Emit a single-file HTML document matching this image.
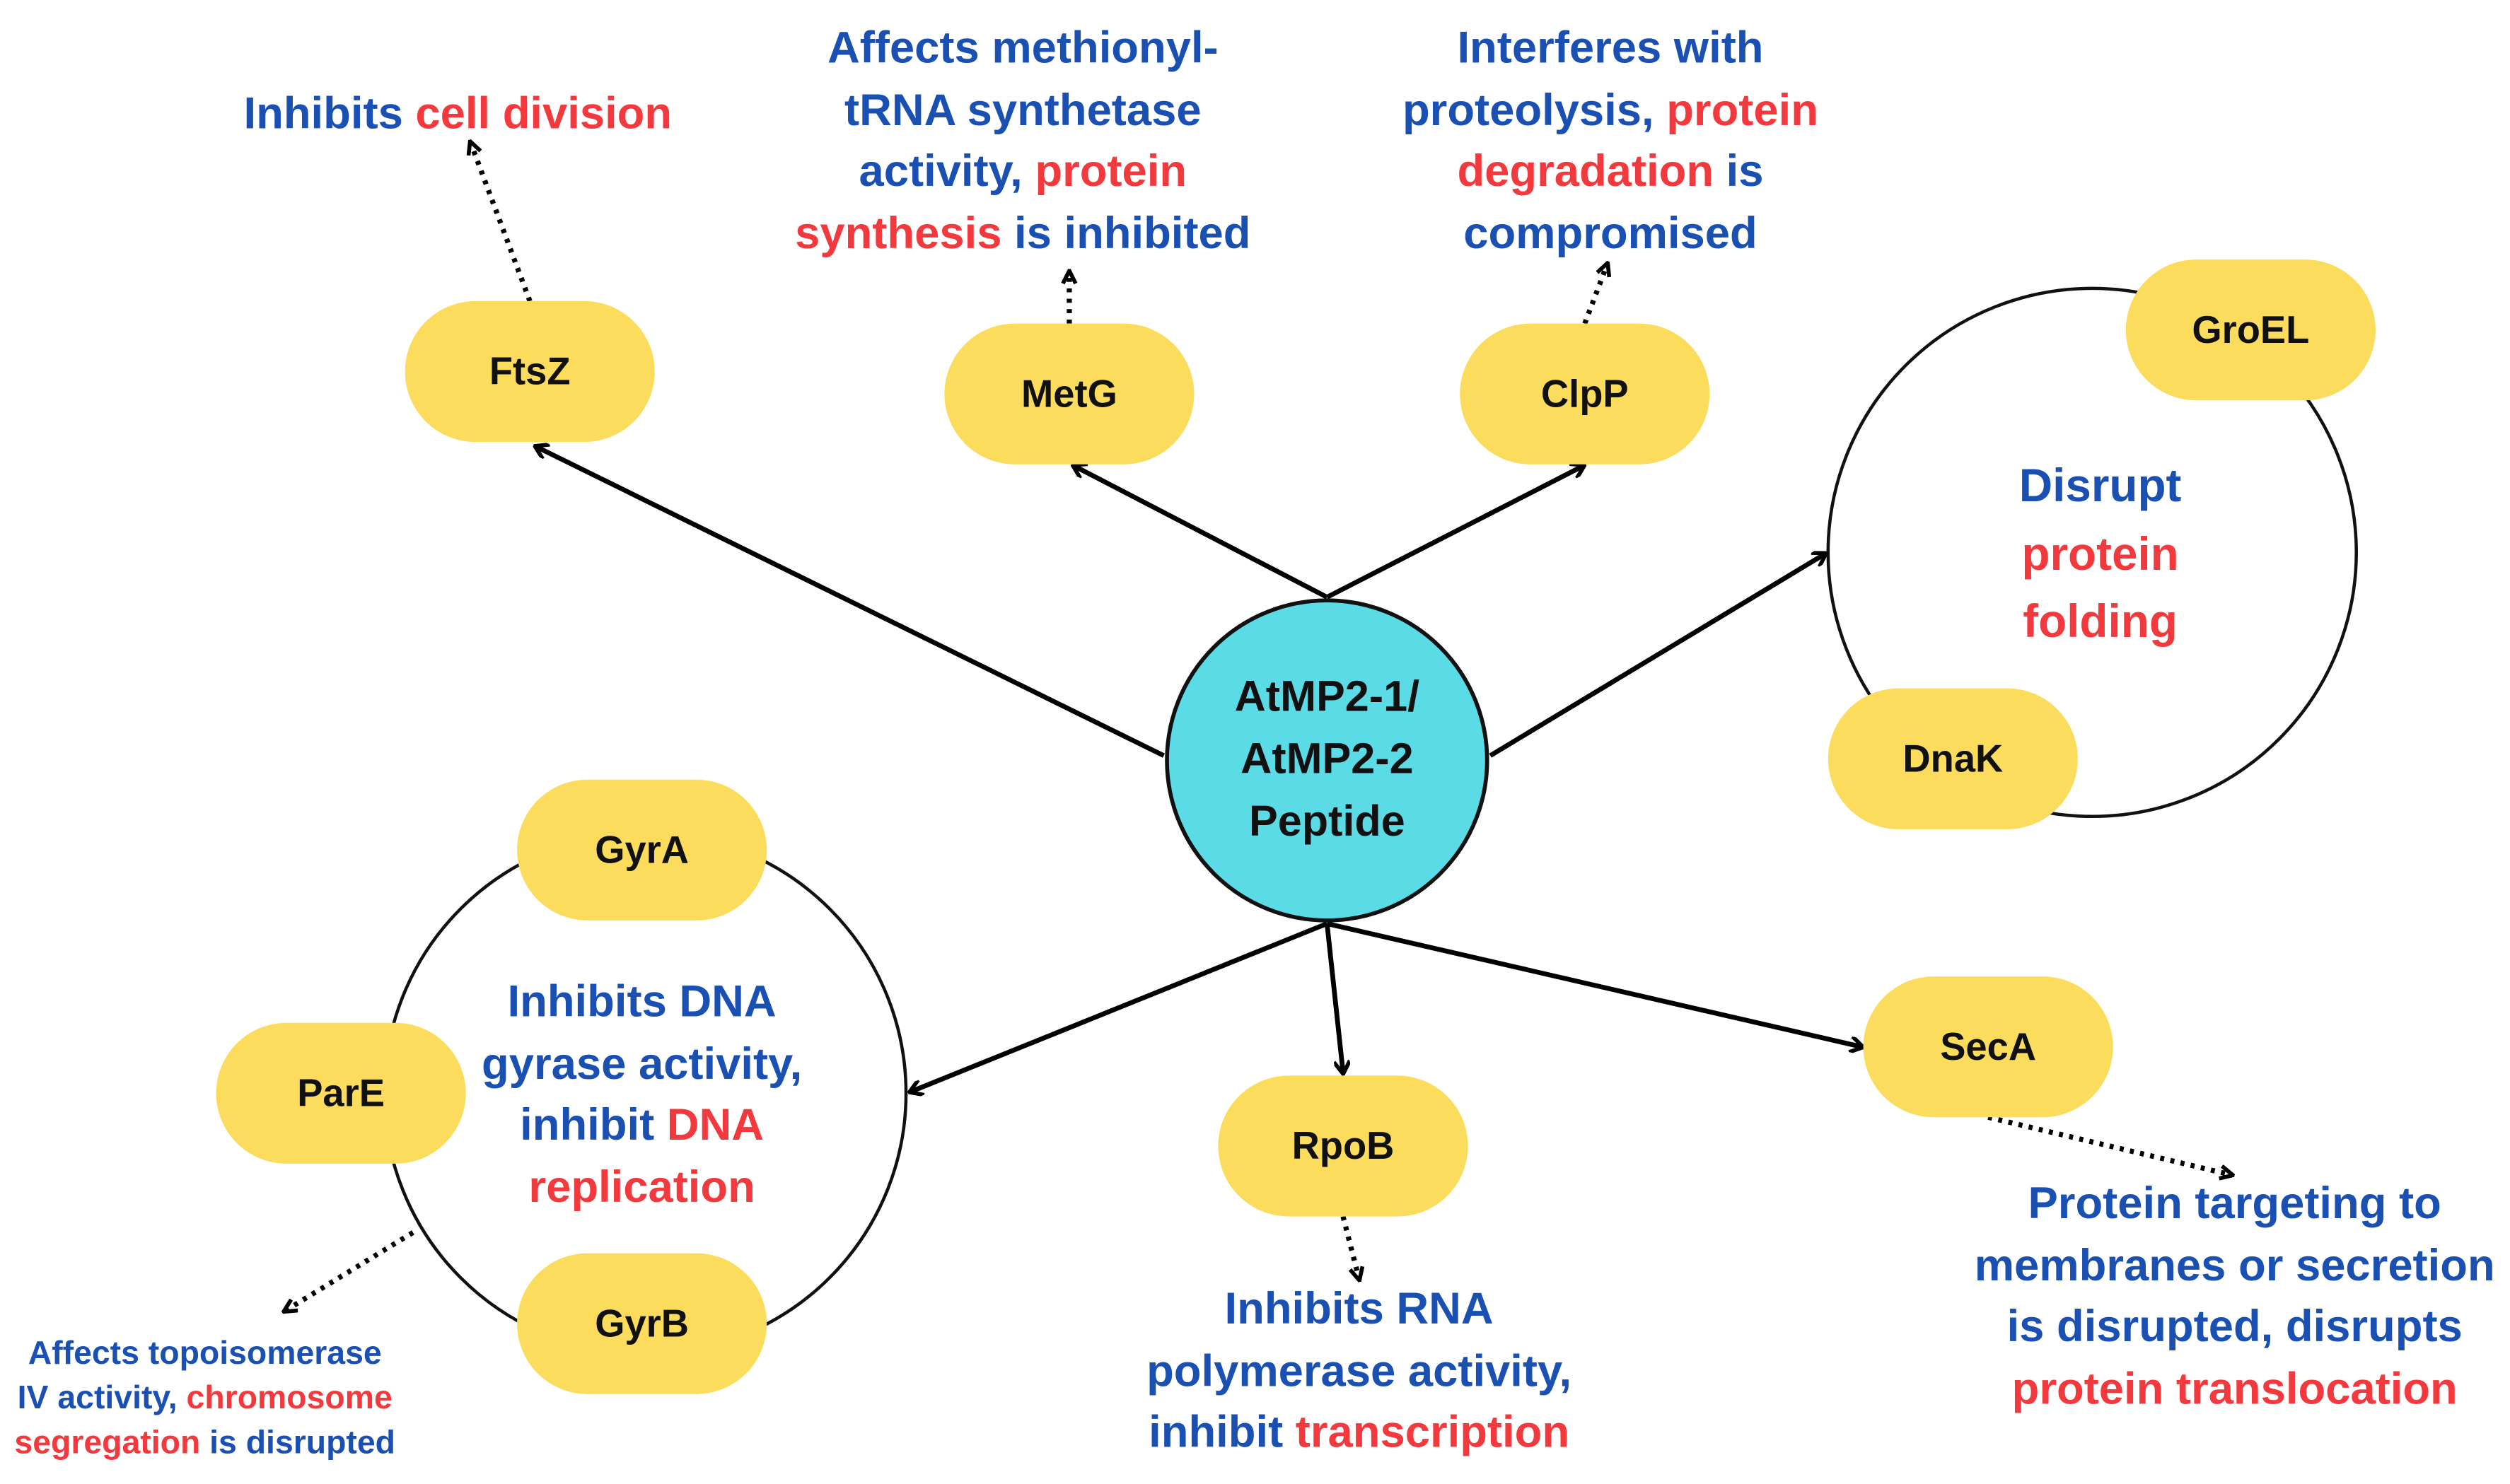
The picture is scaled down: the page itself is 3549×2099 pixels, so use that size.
<!DOCTYPE html>
<html><head><meta charset="utf-8"><style>html,body{margin:0;padding:0;background:#fff}svg{display:block}</style></head>
<body>
<svg width="3549" height="2099" viewBox="0 0 1568 927" xmlns="http://www.w3.org/2000/svg" font-family="Liberation Sans, sans-serif" font-weight="bold">
<defs>
<marker id="a" markerWidth="10" markerHeight="10" refX="8" refY="5" orient="auto" markerUnits="userSpaceOnUse"><path d="M1,0 L9,5 L1,10" fill="none" stroke="#000" stroke-width="2.5"/></marker>
<marker id="b" markerWidth="10" markerHeight="10" refX="8" refY="5" orient="auto" markerUnits="userSpaceOnUse"><path d="M1,1 L9,5 L1,9" fill="none" stroke="#000" stroke-width="2.5"/></marker>
</defs>
<g fill="none" stroke="#111" stroke-width="2">
<circle cx="1307" cy="345" r="165"/>
<circle cx="403" cy="683" r="163"/>
</g>
<g stroke="#000" stroke-width="3" fill="none" marker-end="url(#a)">
<line x1="727" y1="472" x2="335" y2="279"/>
<line x1="829" y1="373" x2="671" y2="291"/>
<line x1="829" y1="373" x2="989" y2="291"/>
<line x1="931" y1="472" x2="1140" y2="346"/>
<line x1="829" y1="577" x2="569" y2="682"/>
<line x1="829" y1="577" x2="839" y2="670"/>
<line x1="829" y1="577" x2="1163" y2="654"/>
</g>
<g stroke="#000" stroke-width="3.2" fill="none" stroke-dasharray="2.5 4" marker-end="url(#b)">
<line x1="331" y1="188" x2="294" y2="89"/>
<line x1="668" y1="202" x2="668" y2="170"/>
<line x1="990" y1="202" x2="1004" y2="165"/>
<line x1="1242" y1="698" x2="1394" y2="734"/>
<line x1="839" y1="760" x2="849" y2="799"/>
<line x1="258" y1="770" x2="178" y2="819"/>
</g>
<g fill="#fcdc5c">
<rect x="253" y="188" width="156" height="88" rx="44"/>
<rect x="590" y="202" width="156" height="88" rx="44"/>
<rect x="912" y="202" width="156" height="88" rx="44"/>
<rect x="1328" y="162" width="156" height="88" rx="44"/>
<rect x="1142" y="430" width="156" height="88" rx="44"/>
<rect x="323" y="487" width="156" height="88" rx="44"/>
<rect x="135" y="639" width="156" height="88" rx="44"/>
<rect x="323" y="783" width="156" height="88" rx="44"/>
<rect x="761" y="672" width="156" height="88" rx="44"/>
<rect x="1164" y="610" width="156" height="88" rx="44"/>
</g>
<circle cx="829" cy="475" r="100" fill="#5adbe6" stroke="#111" stroke-width="2.5"/>
<g font-size="24" fill="#111" text-anchor="middle">
<text x="331" y="240">FtsZ</text>
<text x="668" y="254">MetG</text>
<text x="990" y="254">ClpP</text>
<text x="1406" y="214">GroEL</text>
<text x="1220" y="482">DnaK</text>
<text x="401" y="539">GyrA</text>
<text x="213" y="691">ParE</text>
<text x="401" y="835">GyrB</text>
<text x="839" y="724">RpoB</text>
<text x="1242" y="662">SecA</text>
</g>
<g font-size="27" fill="#111" text-anchor="middle">
<text x="829" y="444">AtMP2-1/</text>
<text x="829" y="483">AtMP2-2</text>
<text x="829" y="522">Peptide</text>
</g>
<g font-size="28" text-anchor="middle" fill="#1b50b3">
<text x="286" y="80">Inhibits <tspan fill="#f23a3e">cell division</tspan></text>
<text x="639" y="39">Affects methionyl-</text>
<text x="639" y="78">tRNA synthetase</text>
<text x="639" y="116">activity, <tspan fill="#f23a3e">protein</tspan></text>
<text x="639" y="155"><tspan fill="#f23a3e">synthesis</tspan> is inhibited</text>
<text x="1006" y="39">Interferes with</text>
<text x="1006" y="78">proteolysis, <tspan fill="#f23a3e">protein</tspan></text>
<text x="1006" y="116"><tspan fill="#f23a3e">degradation</tspan> is</text>
<text x="1006" y="155">compromised</text>
<text x="1312" y="313" font-size="29">Disrupt</text>
<text x="1312" y="356" font-size="29" fill="#f23a3e">protein</text>
<text x="1312" y="398" font-size="29" fill="#f23a3e">folding</text>
<text x="401" y="635">Inhibits DNA</text>
<text x="401" y="674">gyrase activity,</text>
<text x="401" y="712">inhibit <tspan fill="#f23a3e">DNA</tspan></text>
<text x="401" y="751" fill="#f23a3e">replication</text>
<text x="849" y="827">Inhibits RNA</text>
<text x="849" y="866">polymerase activity,</text>
<text x="849" y="904">inhibit <tspan fill="#f23a3e">transcription</tspan></text>
<text x="1396" y="761">Protein targeting to</text>
<text x="1396" y="800">membranes or secretion</text>
<text x="1396" y="838">is disrupted, disrupts</text>
<text x="1396" y="877" fill="#f23a3e">protein translocation</text>
</g>
<g font-size="20.5" text-anchor="middle" fill="#1b50b3">
<text x="128" y="852">Affects topoisomerase</text>
<text x="128" y="880">IV activity, <tspan fill="#f23a3e">chromosome</tspan></text>
<text x="128" y="908"><tspan fill="#f23a3e">segregation</tspan> is disrupted</text>
</g>
</svg>
</body></html>
